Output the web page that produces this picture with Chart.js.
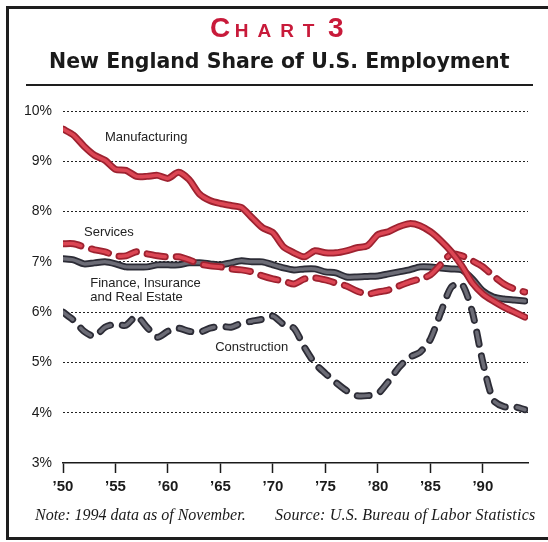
<!DOCTYPE html>
<html>
<head>
<meta charset="utf-8">
<script src="https://cdn.jsdelivr.net/npm/chart.js@4.4.1/dist/chart.umd.min.js"></script>
<style>
  body { margin: 0; background: #fff; }
  #wrap { position: relative; width: 548px; height: 542px; overflow: hidden; background: #fff; }
  #myChart { position: absolute; left: 0; top: 0; }
  .rule { position: absolute; background: #1e1e1e; }
  #chartNo { position: absolute; left: 210px; top: 12px; color: #c81a3a; font-family: "Liberation Sans", Arial, sans-serif; font-weight: bold; white-space: nowrap; line-height: 32px; }
  #chartNo .big { font-size: 28px; }
  #chartNo .small { font-size: 19px; letter-spacing: 9px; }
  #title { position: absolute; left: 49px; top: 50px; font-family: "DejaVu Sans", sans-serif; font-weight: bold; font-size: 20.5px; line-height: 22px; color: #1a1a1a; white-space: nowrap; }
  .note { position: absolute; top: 505px; font-family: "Liberation Serif", "Times New Roman", serif; font-style: italic; font-size: 16px; line-height: 20px; color: #1a1a1a; white-space: nowrap; }
</style>
</head>
<body>
<div id="wrap">
  <canvas id="myChart" width="548" height="542"></canvas>
  <div class="rule" style="left:6px; top:6px; width:3px; height:534px;"></div>
  <div class="rule" style="left:6px; top:6px; width:542px; height:3px;"></div>
  <div class="rule" style="left:6px; top:537px; width:542px; height:3px;"></div>
  <div class="rule" style="left:26px; top:84px; width:507px; height:1.5px;"></div>
  <div id="chartNo"><span class="big">C</span> <span class="small">HART</span> <span class="big">3</span></div>
  <div id="title">New England Share of U.S. Employment</div>
  <div class="note" style="left:35px;">Note: 1994 data as of November.</div>
  <div class="note" style="left:275px; letter-spacing:0.2px;">Source: U.S. Bureau of Labor Statistics</div>
</div>
<script>
const years = [1950, 1951, 1952, 1953, 1954, 1955, 1956, 1957, 1958, 1959,
  1960, 1961, 1962, 1963, 1964, 1965, 1966, 1967, 1968, 1969,
  1970, 1971, 1972, 1973, 1974, 1975, 1976, 1977, 1978, 1979,
  1980, 1981, 1982, 1983, 1984, 1985, 1986, 1987, 1988, 1989,
  1990, 1991, 1992, 1993, 1994];

// percent of U.S. employment located in New England
const manufacturing = [9.64, 9.52, 9.3, 9.12, 9.02, 8.84, 8.82, 8.7, 8.7, 8.72,
  8.66, 8.78, 8.64, 8.35, 8.22, 8.16, 8.12, 8.08, 7.88, 7.68,
  7.58, 7.3, 7.18, 7.1, 7.22, 7.18, 7.18, 7.22, 7.28, 7.32,
  7.54, 7.6, 7.7, 7.76, 7.72, 7.6, 7.42, 7.2, 6.92, 6.58,
  6.36, 6.22, 6.1, 6.0, 5.9];
const services = [7.36, 7.36, 7.3, 7.24, 7.2, 7.12, 7.12, 7.2, 7.16, 7.12,
  7.1, 7.1, 7.04, 6.96, 6.92, 6.9, 6.86, 6.84, 6.8, 6.72,
  6.66, 6.62, 6.56, 6.66, 6.68, 6.64, 6.58, 6.52, 6.42, 6.36,
  6.4, 6.44, 6.52, 6.6, 6.66, 6.74, 6.95, 7.16, 7.12, 7.02,
  6.9, 6.72, 6.56, 6.46, 6.4];
const finance = [7.06, 7.04, 6.96, 6.98, 7.0, 6.96, 6.9, 6.9, 6.9, 6.94,
  6.94, 6.94, 6.98, 6.98, 6.96, 6.94, 6.98, 7.02, 7.0, 7.0,
  6.94, 6.88, 6.84, 6.86, 6.86, 6.8, 6.78, 6.7, 6.7, 6.71,
  6.72, 6.76, 6.8, 6.84, 6.9, 6.9, 6.88, 6.86, 6.84, 6.66,
  6.42, 6.3, 6.26, 6.24, 6.22];
const construction = [6.0, 5.84, 5.62, 5.52, 5.7, 5.76, 5.74, 5.92, 5.7, 5.5,
  5.62, 5.68, 5.62, 5.6, 5.68, 5.72, 5.7, 5.78, 5.82, 5.86,
  5.92, 5.76, 5.68, 5.3, 4.98, 4.78, 4.6, 4.44, 4.34, 4.34,
  4.38, 4.62, 4.9, 5.1, 5.2, 5.46, 6.0, 6.5, 6.56, 6.0,
  5.0, 4.25, 4.12, 4.12, 4.06];

const yTicks = [3, 4, 5, 6, 7, 8, 9, 10];
const xTicks = [1950, 1955, 1960, 1965, 1970, 1975, 1980, 1985, 1990];

const RED_EDGE = "#9e2230", RED_FILL = "#dc4654";
const GRAY_EDGE = "#2c2c36", GRAY_FILL = "#6c6c76";

function toPoints(values) {
  return years.map((yr, i) => ({ x: yr, y: values[i] }));
}

// each series is stroked twice: a wide dark edge, then a thinner lighter core
function tube(name, values, edge, fill, dash, order) {
  const base = {
    data: toPoints(values),
    pointRadius: 0,
    tension: 0.25,
    borderCapStyle: "round",
    borderJoinStyle: "round",
    borderDash: dash,
    fill: false,
  };
  return [
    Object.assign({}, base, { label: name, borderColor: edge, borderWidth: 7, order: order + 1 }),
    Object.assign({}, base, { label: name + " core", borderColor: fill, borderWidth: 3.5, order: order }),
  ];
}

const seriesLabels = {
  id: "seriesLabels",
  afterDatasetsDraw(chart) {
    const { ctx, scales: { x, y } } = chart;
    const items = [
      ["Manufacturing", 1954.0, 9.4],
      ["Services", 1952.0, 7.52],
      ["Finance, Insurance", 1952.6, 6.5],
      ["and Real Estate", 1952.6, 6.23],
      ["Construction", 1964.5, 5.226],
    ];
    ctx.save();
    ctx.font = "13px 'Liberation Sans', Arial, sans-serif";
    ctx.fillStyle = "#222";
    ctx.textAlign = "left";
    ctx.textBaseline = "alphabetic";
    items.forEach(([text, xv, yv]) => {
      ctx.fillText(text, x.getPixelForValue(xv), y.getPixelForValue(yv));
    });
    ctx.restore();
  },
};

const ctx = document.getElementById("myChart");
new Chart(ctx, {
  type: "line",
  data: {
    datasets: [
      ...tube("Manufacturing", manufacturing, RED_EDGE, RED_FILL, [], 0),
      ...tube("Services", services, RED_EDGE, RED_FILL, [18, 11], 2),
      ...tube("Finance, Insurance and Real Estate", finance, GRAY_EDGE, GRAY_FILL, [], 4),
      ...tube("Construction", construction, GRAY_EDGE, GRAY_FILL, [12, 12], 6),
    ],
  },
  options: {
    responsive: false,
    animation: false,
    layout: { padding: { left: 0, top: 111, right: 20, bottom: 0 } },
    plugins: { legend: { display: false }, tooltip: { enabled: false } },
    scales: {
      x: {
        type: "linear",
        min: 1950,
        max: 1994.3,
        afterFit: (scale) => { scale.height = 79; },
        afterBuildTicks: (scale) => { scale.ticks = xTicks.map((v) => ({ value: v })); },
        grid: { drawOnChartArea: false, drawTicks: true, tickLength: 10, tickColor: "#1a1a1a", tickWidth: 1.5 },
        border: { display: true, color: "#1a1a1a", width: 1.5 },
        ticks: {
          autoSkip: false,
          maxRotation: 0,
          padding: 5,
          color: "#1a1a1a",
          font: { family: "'Liberation Sans', Arial, sans-serif", size: 15, weight: "bold" },
          callback: (v) => "\u2019" + String(v).slice(2),
        },
      },
      y: {
        min: 3,
        max: 10,
        afterFit: (scale) => { scale.width = 63; },
        afterBuildTicks: (scale) => { scale.ticks = yTicks.map((v) => ({ value: v })); },
        grid: {
          drawTicks: false,
          lineWidth: 1,
          color: (c) => (c.tick && c.tick.value === 3 ? "rgba(0,0,0,0)" : "#222"),
        },
        border: { display: false, dash: [2, 2] },
        ticks: {
          padding: 11,
          color: "#1a1a1a",
          font: { family: "'Liberation Sans', Arial, sans-serif", size: 14 },
          callback: (v) => v + "%",
        },
      },
    },
  },
  plugins: [seriesLabels],
});
</script>
</body>
</html>
